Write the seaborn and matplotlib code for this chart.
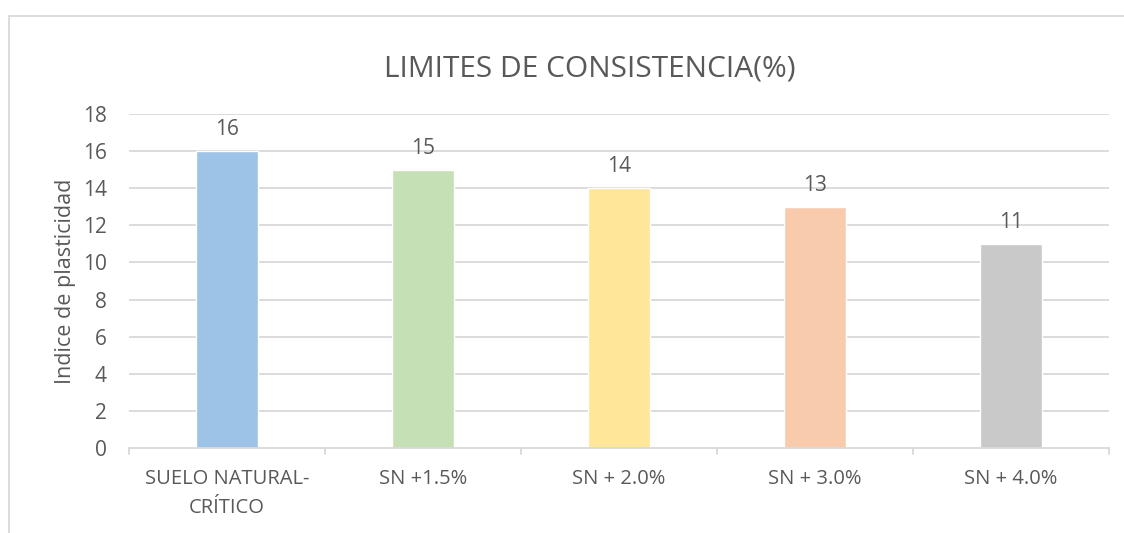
import matplotlib
matplotlib.use("Agg")
import matplotlib.pyplot as plt
import seaborn as sns
import pandas as pd
from matplotlib.lines import Line2D

categories = ["SUELO NATURAL-\nCRÍTICO", "SN +1.5%", "SN + 2.0%", "SN + 3.0%", "SN + 4.0%"]
values = [16, 15, 14, 13, 11]
colors = ["#9DC3E6", "#C5E0B4", "#FFE699", "#F8CBAD", "#C9C9C9"]
yticks = [0, 2, 4, 6, 8, 10, 12, 14, 16, 18]
title = "LIMITES DE CONSISTENCIA(%)"
ylabel = "Indice de plasticidad"

sns.set_theme(style="white")
plt.rcParams['font.family'] = ['Open Sans', 'DejaVu Sans']
txt = "#595959"
grid = "#D9D9D9"

W, H = 1124, 533
fig = plt.figure(figsize=(W / 100, H / 100), dpi=100)
ax = fig.add_axes([129 / W, 1 - 448 / H, (1109 - 129) / W, (448 - 114) / H])

df = pd.DataFrame({"cat": categories, "val": values})
sns.barplot(data=df, x="cat", y="val", hue="cat", palette=colors, legend=False,
            width=0.316, ax=ax, saturation=1, zorder=3)

ax.set_ylim(0, 18)
ax.set_xlim(-0.5, len(categories) - 0.5)
ax.set_yticks(yticks)
ax.set_yticklabels([str(t) for t in yticks], fontsize=15, color=txt)
ax.tick_params(axis="y", length=0, pad=16)
ax.tick_params(axis="x", length=0, pad=15)
ax.set_xticks(range(len(categories)))
ax.set_xticklabels(categories, fontsize=14.5, color=txt, linespacing=1.6)
for t in yticks[1:]:
    ax.axhline(t, color=grid, lw=1.3, zorder=1)
for s in ["top", "right", "left"]:
    ax.spines[s].set_visible(False)
ax.spines["bottom"].set_color(grid)
ax.spines["bottom"].set_linewidth(1.3)
ax.spines["bottom"].set_zorder(4)
for b in [i - 0.5 for i in range(len(categories) + 1)]:
    ax.plot([b, b], [0, -0.35], color=grid, lw=1.3, clip_on=False, zorder=4)

ax.set_xlabel("")
ax.set_ylabel(ylabel, fontsize=15.5, color=txt, labelpad=5)

for i, v in enumerate(values):
    ax.annotate(str(v), (i, v), xytext=(0, 8), textcoords="offset points",
                ha="center", va="bottom", fontsize=15, color=txt)

fig.text(590 / W, 1 - 69 / H, title, ha="center", va="center", fontsize=21.5, color=txt)

# chart frame (cropped: only left and top visible)
fig.add_artist(Line2D([9 / W, 9 / W, 1.0], [0.0, 1 - 16 / H, 1 - 16 / H],
                      transform=fig.transFigure, color=grid, lw=1.3))

fig.savefig("out.png", dpi=100, facecolor="white")
